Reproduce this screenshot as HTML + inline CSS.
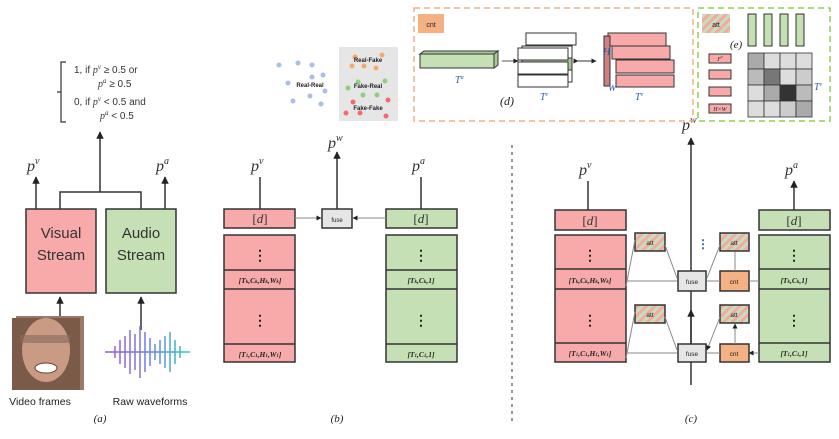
<!DOCTYPE html>
<html><head><meta charset="utf-8"><style>
body{margin:0;background:#fff;}
svg{display:block;font-family:"Liberation Sans",sans-serif;}
.m{font-family:"Liberation Serif",serif;font-style:italic;}
</style></head><body>
<svg width="839" height="439" viewBox="0 0 839 439" xmlns="http://www.w3.org/2000/svg">
<defs>
<marker id="ar" viewBox="0 0 10 10" refX="9" refY="5" markerWidth="5" markerHeight="5" orient="auto"><path d="M0,0L10,5L0,10z" fill="#222"/></marker>
<pattern id="hat" width="6" height="6" patternUnits="userSpaceOnUse" patternTransform="rotate(45)"><rect width="6" height="6" fill="#c5e0b4"/><rect width="3" height="6" fill="#f4a8a8"/></pattern>
<linearGradient id="wv" x1="0" x2="1"><stop offset="0" stop-color="#9b59d0"/><stop offset="0.5" stop-color="#6f7fe0"/><stop offset="1" stop-color="#2cc9c9"/></linearGradient>
</defs>
<g stroke="#333" stroke-width="1.5" fill="none">
<!-- (a) -->
<rect x="26" y="209" width="70" height="84" fill="#f8aaaa"/>
<rect x="106" y="209" width="70" height="84" fill="#c5e0b4"/>
<path d="M36 209V177" marker-end="url(#ar)"/>
<path d="M165 209V177" marker-end="url(#ar)"/>
<path d="M60 209V192H141V209"/>
<path d="M100 192V132" marker-end="url(#ar)"/>
<path d="M60 316V297" marker-end="url(#ar)"/>
<path d="M141 330V297" marker-end="url(#ar)"/>
<path d="M66 62H61V122H66M61 92H57" stroke-width="1.2"/>
</g>
<text x="61" y="238" font-size="15" text-anchor="middle" fill="#333">Visual</text>
<text x="61" y="260" font-size="15" text-anchor="middle" fill="#333">Stream</text>
<text x="141" y="238" font-size="15" text-anchor="middle" fill="#333">Audio</text>
<text x="141" y="260" font-size="15" text-anchor="middle" fill="#333">Stream</text>
<text x="27" y="171" font-size="16" class="m" fill="#333">p<tspan font-size="10" dy="-7">v</tspan></text>
<text x="156" y="171" font-size="16" class="m" fill="#333">p<tspan font-size="10" dy="-7">a</tspan></text>
<g font-size="10" fill="#333">
<text x="74" y="73">1,  if <tspan class="m">p<tspan font-size="7" dy="-4">v</tspan></tspan><tspan dy="4"> ≥ 0.5 or</tspan></text>
<text x="98" y="87"><tspan class="m">p<tspan font-size="7" dy="-4">a</tspan></tspan><tspan dy="4"> ≥ 0.5</tspan></text>
<text x="74" y="105">0,  if <tspan class="m">p<tspan font-size="7" dy="-4">v</tspan></tspan><tspan dy="4"> &lt; 0.5 and</tspan></text>
<text x="100" y="119"><tspan class="m">p<tspan font-size="7" dy="-4">a</tspan></tspan><tspan dy="4"> &lt; 0.5</tspan></text>
</g>
<!-- face -->
<rect x="16" y="316" width="68" height="74" fill="#9a7a66"/>
<rect x="12" y="318" width="68" height="72" fill="#7a5a48"/>
<ellipse cx="46" cy="350" rx="24" ry="32" fill="#c99a84"/>
<rect x="20" y="335" width="50" height="8" fill="#8a6a5a" opacity="0.6"/>
<ellipse cx="46" cy="368" rx="11" ry="5" fill="#fff" stroke="#6a3a30"/>
<!-- wave -->
<g stroke="url(#wv)" stroke-width="1.5">
<path d="M105 352H190M115 346V358M120 340V364M125 336V368M130 330V374M135 334V370M140 326V378M145 332V372M150 338V366M155 344V360M160 340V364M165 336V368M170 332V372M175 340V364M180 346V358"/>
</g>
<text x="40" y="405" font-size="10.5" text-anchor="middle" fill="#222">Video frames</text>
<text x="150" y="405" font-size="10.5" text-anchor="middle" fill="#222">Raw waveforms</text>
<text x="100" y="422" font-size="11" class="m" text-anchor="middle" fill="#222">(a)</text>

<!-- scatter -->
<rect x="339" y="47" width="59" height="74" fill="#e6e6e6"/>
<g fill="#a9bfe8"><circle cx="279" cy="65" r="2.5"/><circle cx="298" cy="63" r="2.5"/><circle cx="312" cy="65" r="2.5"/><circle cx="288" cy="83" r="2.5"/><circle cx="312" cy="77" r="2.5"/><circle cx="323" cy="75" r="2.5"/><circle cx="325" cy="91" r="2.5"/><circle cx="293" cy="101" r="2.5"/><circle cx="310" cy="96" r="2.5"/><circle cx="321" cy="104" r="2.5"/></g>
<g fill="#f4a96e"><circle cx="355" cy="57" r="2.5"/><circle cx="382" cy="55" r="2.5"/><circle cx="352" cy="66" r="2.5"/><circle cx="364" cy="66" r="2.5"/><circle cx="376" cy="68" r="2.5"/></g>
<g fill="#8fd07e"><circle cx="348" cy="88" r="2.5"/><circle cx="358" cy="82" r="2.5"/><circle cx="385" cy="81" r="2.5"/><circle cx="363" cy="95" r="2.5"/><circle cx="377" cy="95" r="2.5"/></g>
<g fill="#f46a6a"><circle cx="353" cy="102" r="2.5"/><circle cx="388" cy="100" r="2.5"/><circle cx="346" cy="113" r="2.5"/><circle cx="360" cy="113" r="2.5"/><circle cx="386" cy="116" r="2.5"/></g>
<g font-size="6" font-weight="bold" fill="#222" text-anchor="middle"><text x="310" y="87">Real-Real</text><text x="368" y="62">Real-Fake</text><text x="368" y="88">Fake-Real</text><text x="368" y="110">Fake-Fake</text></g>

<!-- (b) -->
<g stroke="#333" stroke-width="1.5">
<rect x="224" y="209" width="71" height="19" fill="#f8aaaa"/>
<rect x="224" y="235" width="71" height="127" fill="#f8aaaa"/>
<path d="M224 270H295M224 289H295M224 344H295" fill="none"/>
<rect x="386" y="209" width="71" height="19" fill="#c5e0b4"/>
<rect x="386" y="235" width="71" height="127" fill="#c5e0b4"/>
<path d="M386 270H457M386 289H457M386 344H457" fill="none"/>
<rect x="322" y="209" width="30" height="19" fill="#e6e6e6"/>
<path d="M260 209V177M421 209V177M337 209V152" marker-end="url(#ar)"/>
</g>
<g stroke="#888" stroke-width="1"><path d="M295 218H321" marker-end="url(#ar)"/><path d="M386 218H353" marker-end="url(#ar)"/></g>
<text x="337" y="222" font-size="6" text-anchor="middle" fill="#222">fuse</text>
<g class="m" font-size="13" text-anchor="middle" fill="#333"><text x="260" y="223" font-style="normal">[<tspan font-style="italic">d</tspan>]</text><text x="421" y="223" font-style="normal">[<tspan font-style="italic">d</tspan>]</text></g>
<text x="251" y="171" font-size="16" class="m" fill="#333">p<tspan font-size="10" dy="-7">v</tspan></text>
<text x="412" y="171" font-size="16" class="m" fill="#333">p<tspan font-size="10" dy="-7">a</tspan></text>
<text x="328" y="148" font-size="16" class="m" fill="#333">p<tspan font-size="10" dy="-7">w</tspan></text>
<g font-size="14" font-weight="bold" text-anchor="middle" fill="#222"><text x="260" y="260">⋮</text><text x="260" y="325">⋮</text><text x="421" y="260">⋮</text><text x="421" y="325">⋮</text></g>
<g font-size="7.5" class="m" font-weight="bold" text-anchor="middle" fill="#222"><text x="260" y="283">[T<tspan font-size="5">k</tspan>,C<tspan font-size="5">k</tspan>,H<tspan font-size="5">k</tspan>,W<tspan font-size="5">k</tspan>]</text><text x="260" y="357">[T<tspan font-size="5">1</tspan>,C<tspan font-size="5">1</tspan>,H<tspan font-size="5">1</tspan>,W<tspan font-size="5">1</tspan>]</text><text x="421" y="283">[T<tspan font-size="5">k</tspan>,C<tspan font-size="5">k</tspan>,1]</text><text x="421" y="357">[T<tspan font-size="5">1</tspan>,C<tspan font-size="5">1</tspan>,1]</text></g>
<text x="337" y="422" font-size="11" class="m" text-anchor="middle" fill="#222">(b)</text>

<path d="M512 145V425" stroke="#555" stroke-width="1.2" stroke-dasharray="3,4"/>

<!-- (c) -->
<g stroke="#333" stroke-width="1.5">
<rect x="555" y="210" width="71" height="20" fill="#f8aaaa"/>
<rect x="555" y="235" width="71" height="127" fill="#f8aaaa"/>
<path d="M555 269H626M555 289H626M555 343H626" fill="none"/>
<rect x="759" y="210" width="71" height="20" fill="#c5e0b4"/>
<rect x="759" y="235" width="71" height="127" fill="#c5e0b4"/>
<path d="M759 269H830M759 289H830M759 343H830" fill="none"/>
<path d="M588 210V181M794 210V181" marker-end="url(#ar)"/>
<path d="M691 385V138" marker-end="url(#ar)"/>
<rect x="635" y="233" width="30" height="18" fill="url(#hat)"/>
<rect x="635" y="305" width="30" height="18" fill="url(#hat)"/>
<rect x="720" y="233" width="29" height="18" fill="url(#hat)"/>
<rect x="720" y="305" width="29" height="18" fill="url(#hat)"/>
<rect x="678" y="271" width="28" height="20" fill="#e6e6e6"/>
<rect x="678" y="344" width="28" height="18" fill="#e6e6e6"/>
<rect x="720" y="271" width="29" height="20" fill="#f4b183"/>
<rect x="720" y="344" width="29" height="18" fill="#f4b183"/>
<path d="M691 344V310" marker-end="url(#ar)"/>
</g>
<g stroke="#888" stroke-width="1" fill="none">
<path d="M626 281H677M626 353H677M720 281H707M720 353H707M759 281H749M759 353H749" marker-end="url(#ar)"/>
<path d="M665 245L677 278M665 317L677 350M720 245L707 278M720 317L707 350" marker-end="url(#ar)"/>
<path d="M626 286L635 240M626 358L635 312"/>
<path d="M735 271V252M735 344V324" marker-end="url(#ar)"/>
</g>
<g font-size="6.5" text-anchor="middle" fill="#222"><text x="650" y="245">att</text><text x="650" y="317">att</text><text x="734" y="245">att</text><text x="734" y="317">att</text><text x="692" y="284">fuse</text><text x="692" y="356">fuse</text><text x="734" y="284">cnt</text><text x="734" y="356">cnt</text></g>
<text x="697" y="248" font-size="12" font-weight="bold" fill="#2e5fa8">⋮</text>
<g class="m" font-size="13" text-anchor="middle" fill="#333"><text x="590" y="225" font-style="normal">[<tspan font-style="italic">d</tspan>]</text><text x="794" y="225" font-style="normal">[<tspan font-style="italic">d</tspan>]</text></g>
<text x="579" y="175" font-size="16" class="m" fill="#333">p<tspan font-size="10" dy="-7">v</tspan></text>
<text x="785" y="175" font-size="16" class="m" fill="#333">p<tspan font-size="10" dy="-7">a</tspan></text>
<text x="682" y="130" font-size="16" class="m" fill="#333">p<tspan font-size="10" dy="-7">w</tspan></text>
<g font-size="14" font-weight="bold" text-anchor="middle" fill="#222"><text x="590" y="260">⋮</text><text x="590" y="325">⋮</text><text x="794" y="260">⋮</text><text x="794" y="325">⋮</text></g>
<g font-size="7.5" class="m" font-weight="bold" text-anchor="middle" fill="#222"><text x="590" y="283">[T<tspan font-size="5">k</tspan>,C<tspan font-size="5">k</tspan>,H<tspan font-size="5">k</tspan>,W<tspan font-size="5">k</tspan>]</text><text x="590" y="356">[T<tspan font-size="5">1</tspan>,C<tspan font-size="5">1</tspan>,H<tspan font-size="5">1</tspan>,W<tspan font-size="5">1</tspan>]</text><text x="794" y="283">[T<tspan font-size="5">k</tspan>,C<tspan font-size="5">k</tspan>,1]</text><text x="794" y="356">[T<tspan font-size="5">1</tspan>,C<tspan font-size="5">1</tspan>,1]</text></g>
<text x="691" y="422" font-size="11" class="m" text-anchor="middle" fill="#222">(c)</text>

<!-- (d) -->
<rect x="414" y="8" width="279" height="113" fill="none" stroke="#f4b183" stroke-width="1.5" stroke-dasharray="6,4"/>
<rect x="418" y="14" width="26" height="19" fill="#f4b183"/>
<text x="431" y="27" font-size="7" text-anchor="middle" fill="#222">cnt</text>
<g stroke="#333" stroke-width="1">
<path d="M420 54H494L498 51H424Z" fill="#a8cc98"/>
<rect x="420" y="54" width="74" height="14" fill="#c5e0b4"/>
<path d="M494 54L498 51V65L494 68Z" fill="#a8cc98"/>
</g>
<path d="M502 61H518" stroke="#555" marker-end="url(#ar)"/>
<g stroke="#333" stroke-width="1" fill="#fff">
<rect x="526" y="33" width="50" height="12"/><rect x="522" y="46" width="50" height="12"/>
<rect x="522" y="58" width="50" height="12" fill="#a8c898"/><rect x="522" y="70" width="50" height="12"/>
<rect x="518" y="48" width="50" height="12"/><rect x="518" y="62" width="50" height="12"/><rect x="518" y="75" width="50" height="12"/>
</g>
<path d="M578 61H596" stroke="#333" marker-start="url(#ar)" marker-end="url(#ar)"/>
<g stroke="#333" stroke-width="1" fill="#f8aaaa">
<rect x="608" y="33" width="58" height="13"/><rect x="612" y="46" width="58" height="13"/><rect x="616" y="60" width="58" height="13"/><rect x="616" y="75" width="58" height="12"/>
<rect x="604" y="36" width="6" height="50" fill="#d08080"/>
</g>
<g class="m" font-size="10" fill="#2e5fa8"><text x="455" y="83">T<tspan font-size="6" dy="-4">a</tspan></text><text x="540" y="100">T<tspan font-size="6" dy="-4">v</tspan></text><text x="635" y="100">T<tspan font-size="6" dy="-4">v</tspan></text><text x="603" y="55">H</text><text x="608" y="91">W</text></g>
<text x="500" y="105" font-size="12" class="m" fill="#222">(d)</text>

<!-- (e) -->
<rect x="698" y="8" width="132" height="113" fill="none" stroke="#92d050" stroke-width="1.5" stroke-dasharray="6,4"/>
<rect x="702" y="14" width="28" height="19" fill="url(#hat)"/>
<text x="716" y="27" font-size="7" text-anchor="middle" fill="#222">att</text>
<text x="730" y="48" font-size="11" class="m" fill="#222">(e)</text>
<g stroke="#333" stroke-width="1" fill="#c5e0b4"><rect x="748" y="14" width="8" height="32"/><rect x="764" y="14" width="8" height="32"/><rect x="780" y="14" width="8" height="32"/><rect x="796" y="14" width="8" height="32"/></g>
<g stroke="#333" stroke-width="1" fill="#f8aaaa"><rect x="709" y="54" width="22" height="9"/><rect x="709" y="70" width="22" height="9"/><rect x="709" y="87" width="22" height="9"/><rect x="709" y="104" width="22" height="9"/></g>
<g font-size="6" class="m" text-anchor="middle" fill="#222"><text x="720" y="61">F<tspan font-size="4" dy="-3">v</tspan></text><text x="720" y="111">H×W</text></g>
<g stroke="#333" stroke-width="0.8">
<rect x="748" y="53" width="16" height="16" fill="#aaa"/><rect x="764" y="53" width="16" height="16" fill="#ddd"/><rect x="780" y="53" width="16" height="16" fill="#ddd"/><rect x="796" y="53" width="16" height="16" fill="#ddd"/>
<rect x="748" y="69" width="16" height="16" fill="#bbb"/><rect x="764" y="69" width="16" height="16" fill="#777"/><rect x="780" y="69" width="16" height="16" fill="#ddd"/><rect x="796" y="69" width="16" height="16" fill="#ccc"/>
<rect x="748" y="85" width="16" height="16" fill="#ddd"/><rect x="764" y="85" width="16" height="16" fill="#aaa"/><rect x="780" y="85" width="16" height="16" fill="#333"/><rect x="796" y="85" width="16" height="16" fill="#bbb"/>
<rect x="748" y="101" width="16" height="16" fill="#ddd"/><rect x="764" y="101" width="16" height="16" fill="#ddd"/><rect x="780" y="101" width="16" height="16" fill="#ccc"/><rect x="796" y="101" width="16" height="16" fill="#aaa"/>
</g>
<text x="814" y="90" font-size="10" class="m" fill="#2e5fa8">T<tspan font-size="6" dy="-4">v</tspan></text>
</svg>
</body></html>
